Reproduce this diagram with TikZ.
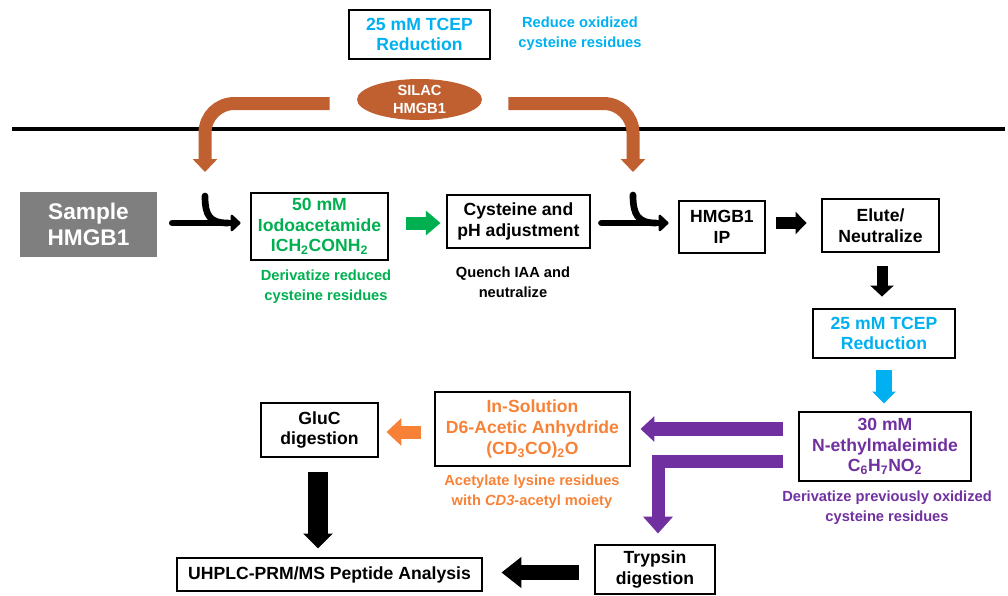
\documentclass[tikz,border=0pt]{standalone}
\usepackage{fontspec}
\setmainfont{Liberation Sans}
\usetikzlibrary{arrows.meta,calc,shapes.geometric}
\definecolor{cblue}{RGB}{0,176,240}
\definecolor{cgreen}{RGB}{0,176,80}
\definecolor{cpurple}{RGB}{112,48,160}
\definecolor{corange}{RGB}{247,130,55}
\definecolor{cbrown}{RGB}{192,96,48}
\definecolor{cgrey}{RGB}{127,127,127}
\begin{document}
\begin{tikzpicture}[x=0.75pt,y=-0.75pt,
  box/.style={draw=black, line width=2.2pt, align=center, inner sep=0pt,
    font=\fontsize{13.2}{15.5}\selectfont\bfseries},
  captxt/.style={align=center, inner sep=0pt, font=\fontsize{11}{15}\selectfont\bfseries},
  thinarrow/.style={line width=5pt, line cap=round, -{Triangle[round,length=8pt,width=14.5pt]}},
  hook/.style={line width=5pt, line cap=round},
  brownarrow/.style={cbrown, line width=9.75pt, rounded corners=22pt, -{Triangle[length=9.75pt,width=18pt]}}
]
\useasboundingbox (0,0) rectangle (1008,596);

% top
\node[box, text=cblue, minimum width=141*0.75pt, minimum height=49*0.75pt] (tcepA) at (419.5,34.5) {25 mM TCEP\\Reduction};
\node[captxt, text=cblue] (reduce) at (580,34) {Reduce oxidized\\cysteine residues};
\node[ellipse, fill=cbrown, text=white, inner sep=-2pt, minimum width=125*0.75pt, minimum height=41*0.75pt,
  align=center, font=\fontsize{11}{13.5}\selectfont\bfseries] (silac) at (419.5,99.5) {SILAC\\HMGB1};

\coordinate (lineL) at (12,129);
\coordinate (lineR) at (1005,129);
\draw[line width=3.5pt] (lineL) -- (lineR);

% first row
\node[fill=cgrey, text=white, align=center, inner sep=0pt, minimum width=137*0.75pt, minimum height=65*0.75pt,
  font=\fontsize{17}{20}\selectfont\bfseries] (sample) at (88.5,224.5) {Sample\\HMGB1};
\node[box, text=cgreen, minimum width=137*0.75pt, minimum height=67*0.75pt] (iaa) at (319.5,226.5)
  {50 mM\\Iodoacetamide\\ICH\textsubscript{2}CONH\textsubscript{2}};
\node[captxt, text=cgreen] (iaacap) at (326,287) {Derivatize reduced\\cysteine residues};
\node[box, minimum width=143*0.75pt, minimum height=53*0.75pt] (cys) at (518.5,221.5) {Cysteine and\\pH adjustment};
\node[captxt] (cyscap) at (513,282) {Quench IAA and\\neutralize};
\node[box, minimum width=86*0.75pt, minimum height=52*0.75pt] (ip) at (722,227) {HMGB1\\IP};
\node[box, minimum width=117*0.75pt, minimum height=53*0.75pt] (elute) at (880.5,225.5) {Elute/\\Neutralize};

% right column
\node[box, text=cblue, minimum width=142*0.75pt, minimum height=49*0.75pt] (tcepB) at (884,333.5) {25 mM TCEP\\Reduction};
\node[box, text=cpurple, minimum width=172*0.75pt, minimum height=69*0.75pt] (nem) at (885,446.5)
  {30 mM\\N-ethylmaleimide\\C\textsubscript{6}H\textsubscript{7}NO\textsubscript{2}};
\node[captxt, text=cpurple] (nemcap) at (887,508) {Derivatize previously oxidized\\cysteine residues};

% lower rows
\node[box, text=corange, minimum width=195*0.75pt, minimum height=74*0.75pt] (d6) at (532.5,429)
  {In-Solution\\D6-Acetic Anhydride\\(CD\textsubscript{3}CO)\textsubscript{2}O};
\node[captxt, text=corange] (d6cap) at (532,492) {Acetylate lysine residues\\with \textit{CD3}-acetyl moiety};
\node[box, minimum width=117*0.75pt, minimum height=54*0.75pt] (gluc) at (319.5,430) {GluC\\digestion};
\node[box, minimum width=120*0.75pt, minimum height=49*0.75pt] (trypsin) at (655,569.5) {Trypsin\\digestion};
\node[box, minimum width=305*0.75pt, minimum height=33*0.75pt] (uhplc) at (329.5,574.5) {UHPLC-PRM/MS Peptide Analysis};

% brown SILAC arrows
\coordinate (bendL) at (205,103.5);
\coordinate (tipL) at (205,172);
\coordinate (bendR) at (633,103.5);
\coordinate (tipR) at (633,172);
\draw[brownarrow] ($(silac.west)+(-27,4)$) -- (bendL) -- (tipL);
\draw[brownarrow] ($(silac.east)+(26,4)$) -- (bendR) -- (tipR);

% black arrows with hooks
\draw[thinarrow] ($(sample.east)+(15,-1.5)$) -- ($(iaa.west)+(-9,-3.5)$);
\coordinate (hookAtop) at (205,196);
\coordinate (hookAend) at (228,223);
\draw[hook] (hookAtop) .. controls (205,216) and (210,223) .. (hookAend);
\draw[thinarrow] ($(cys.east)+(10,1.5)$) -- ($(ip.west)+(-9,-4)$);
\coordinate (hookBtop) at (633,195);
\coordinate (hookBend) at (656,223);
\draw[hook] (hookBtop) .. controls (633,215) and (638,223) .. (hookBend);

% block arrows
\draw[cgreen, line width=9.75pt, -{Triangle[length=11pt,width=18pt]}] ($(iaa.east)+(17,-3.5)$) -- ($(cys.west)+(-5,1.5)$);
\draw[line width=9pt, -{Triangle[length=8.25pt,width=16.5pt]}] ($(ip.east)+(10,-4)$) -- ($(elute.west)+(-14,-2.5)$);
\draw[line width=8.25pt, -{Triangle[length=8.25pt,width=17.25pt]}] ($(elute.south)+(1.5,13)$) -- ($(tcepB.north)+(-2,-11)$);
\draw[cblue, line width=12pt, -{Triangle[length=9pt,width=17.25pt]}] ($(tcepB.south)+(0,11)$) -- ($(nem.north)+(-1,-7)$);
\draw[cpurple, line width=10.5pt, -{Triangle[length=10.5pt,width=18.75pt]}] ($(nem.west)+(-15,-17.5)$) -- ($(d6.east)+(9,0)$);
\draw[cpurple, line width=9.75pt, line join=miter, -{Triangle[length=12.75pt,width=21.75pt]}] ($(nem.west)+(-15,14.5)$) -| ($(trypsin.north)+(3,-10)$);
\draw[corange, line width=9.75pt, -{Triangle[length=11.25pt,width=20.25pt]}] ($(d6.west)+(-13,3)$) -- ($(gluc.east)+(7,2)$);
\draw[line width=15pt, -{Triangle[length=11.25pt,width=21.75pt]}] ($(gluc.south)+(-1.5,14)$) -- ($(uhplc.north)+(-11.5,-8)$);
\draw[line width=11.25pt, -{Triangle[length=15pt,width=22.5pt]}] ($(trypsin.west)+(-15,3)$) -- ($(uhplc.east)+(18,-2)$);
\end{tikzpicture}
\end{document}
